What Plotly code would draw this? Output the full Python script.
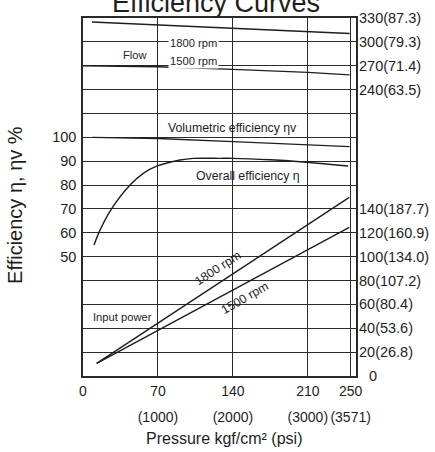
import plotly.graph_objects as go

# ---------------- data ----------------
# Flow (L/min) vs pressure (kgf/cm2)
flow_1800_p = [8.4, 249.0]
flow_1800_q = [325.0, 310.5]
flow_1500_p = [0, 70, 140, 210, 249.0]
flow_1500_q = [269.8, 268.7, 265.4, 261.6, 258.5]

# Volumetric efficiency (%)
vol_p = [9, 70, 140, 210, 249.0]
vol_eff = [100.0, 99.5, 98.2, 96.8, 96.1]

# Overall efficiency (%)
ovr_p = [10.3, 15.9, 25.9, 43.9, 56.3, 69.4, 90.6, 103, 128, 140, 175, 202.7, 247.5]
ovr_eff = [54.9, 61.1, 69.5, 80.0, 84.9, 88.0, 90.5, 91.2, 91.2, 91.2, 90.6, 89.8, 88.0]

# Input power (kW)
pow_p = [12.8, 248.7]
pow_1800 = [10.6, 149.7]
pow_1500 = [10.6, 124.6]

# axis ticks
x_vals = [0, 70, 140, 210, 250]
x_text = ["0", "70", "140", "210", "250"]
psi_vals = [70, 140, 210, 250]
psi_text = ["(1000)", "(2000)", "(3000)", "(3571)"]
eff_vals = list(range(0, 151, 10))
eff_labels = {50: "50", 60: "60", 70: "70", 80: "80", 90: "90", 100: "100"}
pow_vals = [20, 40, 60, 80, 100, 120, 140]
pow_text = ["20(26.8)", "40(53.6)", "60(80.4)", "80(107.2)", "100(134.0)", "120(160.9)", "140(187.7)"]
flow_vals = [240, 270, 300, 330]
flow_text = ["240(63.5)", "270(71.4)", "300(79.3)", "330(87.3)"]

FONT = "Liberation Sans, Arial, sans-serif"
INK = "#1e1e1e"
GRID = "#2a2a2a"

fig = go.Figure()
line = dict(color=INK, width=1.4)
fig.add_trace(go.Scatter(x=flow_1800_p, y=flow_1800_q, yaxis="y3", mode="lines", line=line))
fig.add_trace(go.Scatter(x=flow_1500_p, y=flow_1500_q, yaxis="y3", mode="lines", line=line))
fig.add_trace(go.Scatter(x=vol_p, y=vol_eff, yaxis="y", mode="lines", line=line))
fig.add_trace(go.Scatter(x=ovr_p, y=ovr_eff, yaxis="y", mode="lines",
                         line=dict(color=INK, width=1.4, shape="spline", smoothing=0.8)))
fig.add_trace(go.Scatter(x=pow_p, y=pow_1800, xaxis="x2", yaxis="y2", mode="lines", line=line))
fig.add_trace(go.Scatter(x=pow_p, y=pow_1500, xaxis="x2", yaxis="y2", mode="lines", line=line))

small = dict(family=FONT, size=11.2, color=INK)
mid = dict(family=FONT, size=12.3, color=INK)
ann = [
    dict(x=49.5, y=283.6, xref="x", yref="y3", text="Flow", showarrow=False, font=small),
    dict(x=103.4, y=298.2, xref="x", yref="y3", text="1800 rpm", showarrow=False, font=small,
         bgcolor="white"),
    dict(x=103.4, y=276.4, xref="x", yref="y3", text="1500 rpm", showarrow=False, font=small,
         bgcolor="white"),
    dict(x=139.2, y=104.0, xref="x", yref="y", text="Volumetric efficiency ηv", showarrow=False,
         font=mid),
    dict(x=153.7, y=83.8, xref="x", yref="y", text="Overall efficiency η", showarrow=False, font=mid),
    dict(x=126.4, y=90.2, xref="x", yref="y2", text="1800 rpm", showarrow=False, font=mid,
         textangle=-33),
    dict(x=151.3, y=65.1, xref="x", yref="y2", text="1500 rpm", showarrow=False, font=mid,
         textangle=-30),
    dict(x=7.2, y=49.2, xref="x", yref="y2", text="Input power", showarrow=False, font=small,
         xanchor="left"),
    dict(x=1, y=0, xref="paper", yref="y2", text="0", showarrow=False, xanchor="center", xshift=17,
         font=dict(family=FONT, size=14.5, color=INK)),
    dict(x=0.489, y=1, xref="paper", yref="paper", text="Efficiency Curves", showarrow=False,
         yanchor="bottom", yshift=-2, font=dict(family=FONT, size=27, color=INK)),
    dict(x=0, y=0.478, xref="paper", yref="paper", text="Efficiency η, ηv %", showarrow=False,
         textangle=-90, xanchor="center", xshift=-68, font=dict(family=FONT, size=20, color=INK)),
    dict(x=0.516, y=0, xref="paper", yref="paper", text="Pressure kgf/cm² (psi)", showarrow=False,
         yanchor="middle", yshift=-62, font=dict(family=FONT, size=16, color=INK)),
]

tickfont = dict(family=FONT, size=14.5, color=INK)
xtickfont = dict(family=FONT, size=14, color=INK)
fig.update_layout(
    width=435, height=452, autosize=False,
    margin=dict(l=83, r=79, t=18, b=76),
    paper_bgcolor="white", plot_bgcolor="white",
    showlegend=False,
    annotations=ann,
    xaxis=dict(range=[0, 255], tickvals=x_vals, ticktext=x_text, tickfont=xtickfont, tickangle=0,
               automargin=False, ticklen=0, ticklabelstandoff=1,
               showgrid=True, gridcolor=GRID, gridwidth=1.2, zeroline=False,
               showline=True, linecolor=GRID, linewidth=1.5, mirror=True, ticks=""),
    xaxis2=dict(range=[0, 255], overlaying="x", anchor="y", side="bottom", tickvals=psi_vals,
                ticktext=psi_text, tickfont=xtickfont, tickangle=0, automargin=False,
                ticklen=0, ticklabelstandoff=31,
                showgrid=False, zeroline=False, showline=False, ticks=""),
    yaxis=dict(range=[0, 150], tickvals=eff_vals, automargin=False, ticklen=0, ticklabelstandoff=2,
               ticktext=[eff_labels.get(v, "") for v in eff_vals], tickfont=tickfont,
               showgrid=True, gridcolor=GRID, gridwidth=1.2, zeroline=False,
               showline=True, linecolor=GRID, linewidth=1.5, mirror=True, ticks=""),
    yaxis2=dict(range=[0, 300], overlaying="y", side="right", tickvals=pow_vals, ticktext=pow_text,
                automargin=False, ticklen=0, ticklabelstandoff=2,
                tickfont=tickfont, showgrid=False, zeroline=False, showline=False, ticks=""),
    yaxis3=dict(range=[-120, 330], overlaying="y", side="right", tickvals=flow_vals, ticktext=flow_text,
                automargin=False, ticklen=0, ticklabelstandoff=2,
                tickfont=tickfont, showgrid=False, zeroline=False, showline=False, ticks=""),
)

fig.write_html("out.html", config={"displayModeBar": False},
               post_script="document.body.style.margin='0px';")
